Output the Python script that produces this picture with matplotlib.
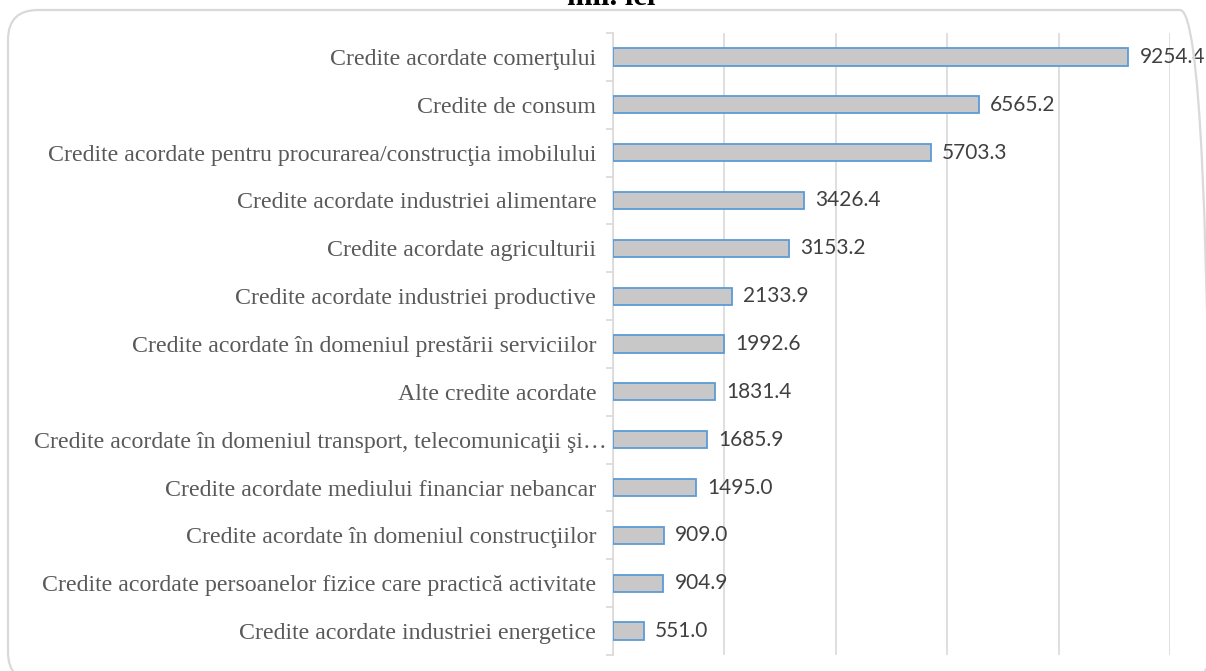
import matplotlib
matplotlib.use("Agg")
import matplotlib.pyplot as plt
from matplotlib.patches import FancyBboxPatch
from matplotlib.transforms import Affine2D, ScaledTranslation
from matplotlib.ticker import FixedLocator, MultipleLocator

categories = [
    "Credite acordate comerţului",
    "Credite de consum",
    "Credite acordate pentru procurarea/construcţia imobilului",
    "Credite acordate industriei alimentare",
    "Credite acordate agriculturii",
    "Credite acordate industriei productive",
    "Credite acordate în domeniul prestării serviciilor",
    "Alte credite acordate",
    "Credite acordate în domeniul transport, telecomunicaţii şi…",
    "Credite acordate mediului financiar nebancar",
    "Credite acordate în domeniul construcţiilor",
    "Credite acordate persoanelor fizice care practică activitate",
    "Credite acordate industriei energetice",
]
values = [9254.4, 6565.2, 5703.3, 3426.4, 3153.2, 2133.9, 1992.6, 1831.4,
          1685.9, 1495.0, 909.0, 904.9, 551.0]
title = "mil. lei"

W, H = 1206, 671
fig = plt.figure(figsize=(W / 100, H / 100), dpi=100)

# rounded frame (pixel coordinates, origin bottom-left); right and bottom
# edges run off the picture as in the original
px = Affine2D().scale(1 / W, 1 / H) + fig.transFigure
frame = FancyBboxPatch((8, H - 682), 1210 - 8, 682 - 10,
                       boxstyle="round,pad=0,rounding_size=30",
                       transform=px, fill=False,
                       edgecolor="#d9d9d9", linewidth=1.6)
fig.patches.append(frame)

ax = fig.add_axes([613 / W, 1 - 655 / H, (1170 - 613) / W, (655 - 33) / H])
n = len(categories)
ypos = list(range(n))
ax.barh(ypos, values, height=0.36, color="#c8c8c8", edgecolor="#5b9bd5",
        linewidth=1.3, zorder=3)
ax.set_ylim(n - 0.5, -0.5)
ax.set_xlim(0, 10000)
ax.xaxis.set_major_locator(MultipleLocator(2000))
ax.grid(axis="x", color="#d9d9d9", linewidth=1.2, zorder=0)
ax.tick_params(axis="x", length=0, labelbottom=False)

ax.set_yticks(ypos)
ax.set_yticklabels(categories, fontfamily="Liberation Serif", fontsize=17.2,
                   color="#595959")
ax.tick_params(axis="y", which="major", length=0, pad=12)
ax.yaxis.set_minor_locator(FixedLocator([i - 0.5 for i in range(n + 1)]))
ax.tick_params(axis="y", which="minor", length=5, color="#d9d9d9", width=1.2)

# truncated label overflows slightly to the right, as in the original
for lbl in ax.get_yticklabels():
    if lbl.get_text().endswith("…"):
        lbl.set_transform(lbl.get_transform() +
                          ScaledTranslation(10 / 100, 0, fig.dpi_scale_trans))

for s in ["top", "right", "bottom"]:
    ax.spines[s].set_visible(False)
ax.spines["left"].set_color("#d9d9d9")
ax.spines["left"].set_linewidth(1.2)

for y, v in zip(ypos, values):
    ax.annotate(f"{v:.1f}", (v, y), xytext=(8, 0), textcoords="offset points",
                va="center", ha="left", fontfamily="Lato", fontsize=15,
                color="#404040")

fig.text(611 / W, 1 - 5 / H, title, ha="center", va="baseline",
         fontfamily="Liberation Serif", fontweight="bold", fontsize=22,
         color="black")

fig.savefig("out.png", dpi=100)
